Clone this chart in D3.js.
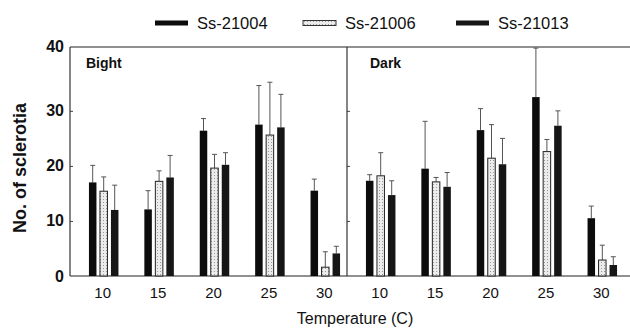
<!DOCTYPE html>
<html>
<head>
<meta charset="utf-8">
<script src="https://cdn.jsdelivr.net/npm/d3@7"></script>
<style>
  body { margin: 0; background: #fff; }
  svg { display: block; font-family: 'Liberation Sans', Arial, sans-serif; }
</style>
</head>
<body>
<script>
/* global d3 */
(function () {
  'use strict'

  // Data
  var temps = ['10', '15', '20', '25', '30']
  var panels = ['Bight', 'Dark']
  var strains = ['Ss-21004', 'Ss-21006', 'Ss-21013']
  var yTicks = [0, 10, 20, 30, 40]

  // rows follow strains, columns follow temps
  var bightMeans = [
    [17.0, 12.1, 26.4, 27.5, 15.5],
    [15.4, 17.2, 19.6, 25.6, 1.6],
    [12.0, 17.9, 20.2, 27.0, 4.1]
  ]
  var bightErrors = [
    [3.1, 3.4, 2.2, 7.1, 2.1],
    [2.6, 1.9, 2.5, 9.6, 2.8],
    [4.5, 4.0, 2.2, 6.0, 1.3]
  ]
  var darkMeans = [
    [17.3, 19.5, 26.5, 32.5, 10.5],
    [18.2, 17.1, 21.4, 22.6, 2.9],
    [14.7, 16.2, 20.3, 27.3, 2.0]
  ]
  var darkErrors = [
    [1.1, 8.6, 3.9, 8.9, 2.2],
    [4.2, 0.8, 6.1, 2.2, 2.7],
    [2.6, 2.6, 4.7, 2.7, 1.5]
  ]

  var dim = { w: 630, h: 332 }
  var offset = { left: 70, top: 47, right: 6, bottom: 56 }
  var groupShift = 6

  var svg = d3.select('body').append('svg')
    .attr('width', dim.w)
    .attr('height', dim.h)

  var defs = svg.append('defs')
  var pat = defs.append('pattern')
    .attr('id', 'stipple')
    .attr('patternUnits', 'userSpaceOnUse')
    .attr('width', 3)
    .attr('height', 3)
  pat.append('rect').attr('width', 3).attr('height', 3).attr('fill', '#ececec')
  pat.append('rect').attr('x', 1).attr('y', 1).attr('width', 1).attr('height', 1)
    .attr('fill', '#9a9a9a')

  var fills = ['#0c0c0c', 'url(#stipple)', '#161616']

  var plotW = dim.w - offset.left - offset.right
  var y = d3.scaleLinear().domain([0, 41.6]).range([dim.h - offset.bottom, offset.top])

  var panelX = d3.scaleBand().domain(panels)
    .range([offset.left, offset.left + plotW])

  var inner = d3.scaleBand().domain(strains)
    .range([-14.75, 14.75]).paddingInner(0.318)

  var rows = {
    Bight: { means: bightMeans, errors: bightErrors },
    Dark: { means: darkMeans, errors: darkErrors }
  }

  // frame lines
  var frame = svg.append('g').attr('stroke', '#222').attr('fill', 'none')
  frame.append('line')
    .attr('x1', offset.left).attr('x2', dim.w)
    .attr('y1', y(41.6)).attr('y2', y(41.6))
    .attr('stroke-width', 1.2)
  frame.append('line')
    .attr('x1', offset.left).attr('x2', dim.w)
    .attr('y1', y(0)).attr('y2', y(0))
    .attr('stroke-width', 1)

  panels.forEach(function (p) {
    var x0 = panelX(p)
    var x1 = x0 + panelX.bandwidth()
    var groups = d3.scaleBand().domain(temps)
      .range([x0 + groupShift, x1 + groupShift])

    var g = svg.append('g').attr('class', 'panel')

    // vertical axis line with inward ticks
    var axis = d3.axisRight(y).tickValues(yTicks.slice(1, 4))
      .tickSizeInner(3).tickSizeOuter(0).tickFormat('')
    g.append('g')
      .attr('transform', 'translate(' + x0 + ',0)')
      .call(axis)
      .call(function (s) {
        s.select('.domain').remove()
        s.selectAll('line').attr('stroke', '#444')
      })
    g.append('line')
      .attr('x1', x0).attr('x2', x0)
      .attr('y1', y(41.6)).attr('y2', y(0))
      .attr('stroke', '#333').attr('stroke-width', 1.2)

    // panel label
    g.append('text')
      .attr('x', p === 'Bight' ? x0 + 16 : x0 + 23)
      .attr('y', 68)
      .attr('font-size', 14)
      .attr('font-weight', 'bold')
      .attr('fill', '#111')
      .text(p)

    strains.forEach(function (s, si) {
      var data = temps.map(function (t, ti) {
        return { t: t, v: rows[p].means[si][ti], e: rows[p].errors[si][ti] }
      })
      var cx = function (d) { return groups(d.t) + groups.bandwidth() / 2 + inner(s) }

      // error bars (upper only)
      var eg = g.append('g').attr('stroke', '#555').attr('stroke-width', 1)
      eg.selectAll('line.err').data(data).enter().append('line')
        .attr('class', 'err')
        .attr('x1', function (d) { return cx(d) + inner.bandwidth() / 2 })
        .attr('x2', function (d) { return cx(d) + inner.bandwidth() / 2 })
        .attr('y1', function (d) { return y(d.v) })
        .attr('y2', function (d) { return y(d.v + d.e) })
      eg.selectAll('line.cap').data(data).enter().append('line')
        .attr('class', 'cap')
        .attr('x1', function (d) { return cx(d) + inner.bandwidth() / 2 - 2.5 })
        .attr('x2', function (d) { return cx(d) + inner.bandwidth() / 2 + 2.5 })
        .attr('y1', function (d) { return y(d.v + d.e) })
        .attr('y2', function (d) { return y(d.v + d.e) })

      g.selectAll('rect.s' + si).data(data).enter().append('rect')
        .attr('class', 's' + si)
        .attr('x', cx)
        .attr('y', function (d) { return y(d.v) })
        .attr('width', inner.bandwidth())
        .attr('height', function (d) { return y(0) - y(d.v) })
        .attr('fill', fills[si])
        .attr('stroke', si === 1 ? '#222' : 'none')
        .attr('stroke-width', 1)
    })

    // temperature labels
    g.selectAll('text.temp').data(temps).enter().append('text')
      .attr('class', 'temp')
      .attr('x', function (t) { return groups(t) + groups.bandwidth() / 2 - 1 })
      .attr('y', 298)
      .attr('text-anchor', 'middle')
      .attr('font-size', 15)
      .attr('fill', '#111')
      .text(function (t) { return t })
  })

  // y tick labels
  svg.selectAll('text.ytick').data(yTicks).enter().append('text')
    .attr('class', 'ytick')
    .attr('x', 64)
    .attr('y', function (v) { return v === 40 ? y(41.6) + 5 : y(v) + 5.5 })
    .attr('text-anchor', 'end')
    .attr('font-size', 16)
    .attr('font-weight', 'bold')
    .attr('fill', '#111')
    .text(function (v) { return v })

  // axis titles
  svg.append('text')
    .attr('transform', 'translate(26,' + 168 + ') rotate(-90)')
    .attr('text-anchor', 'middle')
    .attr('font-size', 18)
    .attr('font-weight', 'bold')
    .attr('fill', '#111')
    .text('No. of sclerotia')

  svg.append('text')
    .attr('x', 355)
    .attr('y', 324)
    .attr('text-anchor', 'middle')
    .attr('font-size', 16)
    .attr('fill', '#111')
    .text('Temperature (C)')

  // legend
  var legendX = [155, 303, 456]
  var legend = svg.selectAll('g.legend').data(strains).enter().append('g')
    .attr('class', 'legend')
    .attr('transform', function (d, i) { return 'translate(' + legendX[i] + ',23)' })
  legend.append('rect')
    .attr('x', 0).attr('y', -2.5)
    .attr('width', 33).attr('height', 5)
    .attr('fill', function (d, i) { return fills[i] })
    .attr('stroke', function (d, i) { return i === 1 ? '#333' : 'none' })
  legend.append('text')
    .attr('x', 42).attr('y', 6)
    .attr('font-size', 16.5)
    .attr('fill', '#111')
    .text(function (d) { return d })
}())
</script>
</body>
</html>
